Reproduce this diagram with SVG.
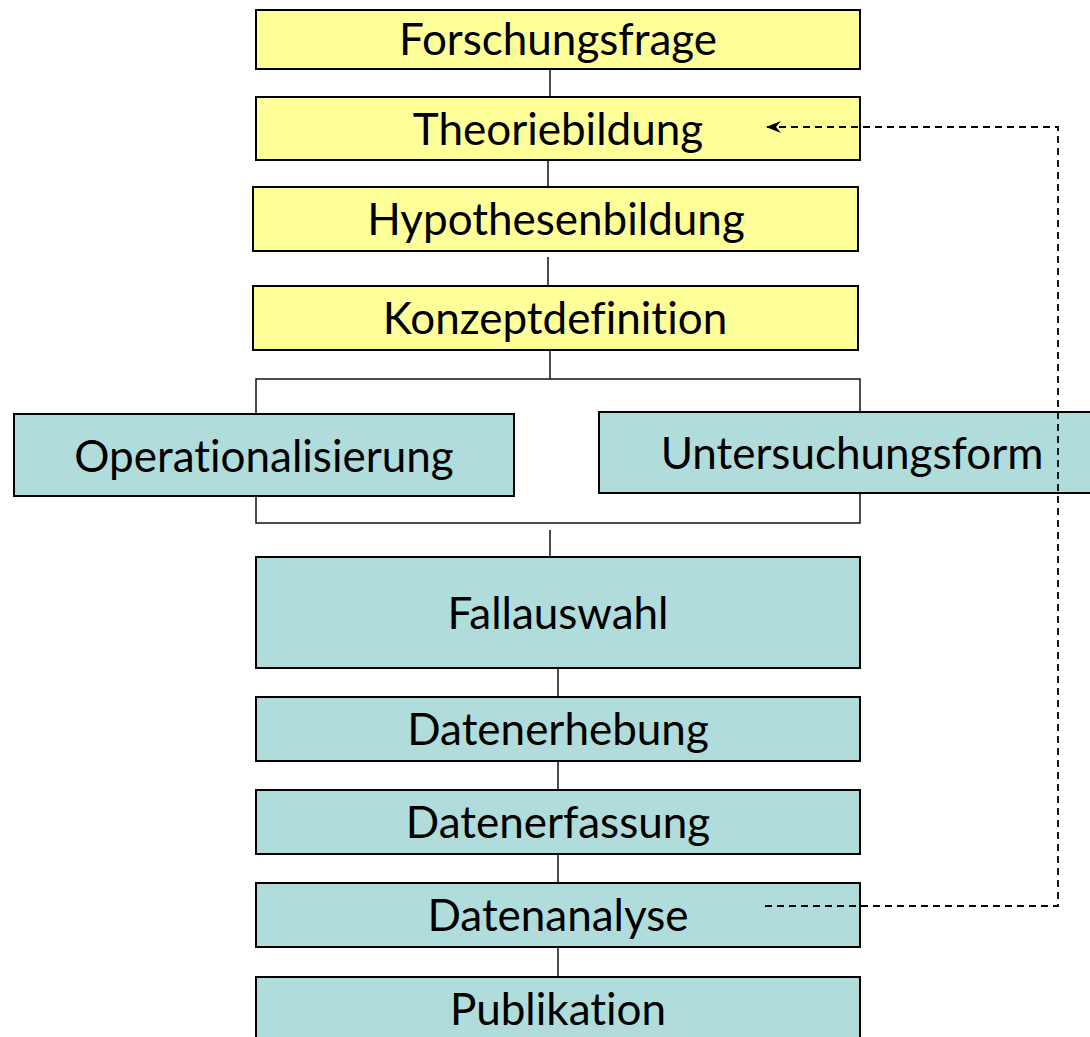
<svg xmlns="http://www.w3.org/2000/svg" width="1090" height="1037" viewBox="0 0 1090 1037">
<defs>
<style>
.y{fill:#ffff99;stroke:#000;stroke-width:2}
.t{fill:#b0dcdb;stroke:#000;stroke-width:2}
.lb{font-family:"Lato","Open Sans",sans-serif;font-size:44px;fill:#000;text-anchor:middle;font-variant-ligatures:none;font-feature-settings:"liga" 0,"dlig" 0}
.c{stroke:#111;stroke-width:1.5;fill:none}
.d{stroke:#000;stroke-width:1.8;fill:none;stroke-dasharray:7,5}
</style>
<marker id="ah" viewBox="0 0 15 12" refX="15" refY="6" markerWidth="15" markerHeight="12" markerUnits="userSpaceOnUse" orient="auto">
<path d="M0,0 L15,6 L0,12 L5,6 Z" fill="#000"/>
</marker>
</defs>
<rect width="1090" height="1037" fill="#fff"/>
<g id="connectors">
<line class="c" x1="550" y1="69" x2="550" y2="97"/>
<line class="c" x1="548" y1="160" x2="548" y2="187"/>
<line class="c" x1="548" y1="257" x2="548" y2="286"/>
<line class="c" x1="550" y1="350" x2="550" y2="379"/>
<path class="c" d="M256,379 H860 V523 H256 Z"/>
<line class="c" x1="550" y1="530" x2="550" y2="557"/>
<line class="c" x1="558" y1="668" x2="558" y2="697"/>
<line class="c" x1="558" y1="761" x2="558" y2="790"/>
<line class="c" x1="558" y1="854" x2="558" y2="883"/>
<line class="c" x1="558" y1="947" x2="558" y2="977"/>
</g>
<g id="n1"><rect class="y" x="256" y="10" width="604" height="59"/><text class="lb" x="558" y="55">Forschungsfrage</text></g>
<g id="n2"><rect class="y" x="256" y="97" width="604" height="63"/><text class="lb" x="558" y="145">Theoriebildung</text></g>
<g id="n3"><rect class="y" x="253" y="187" width="605" height="64"/><text class="lb" x="556" y="235">Hypothesenbildung</text></g>
<g id="n4"><rect class="y" x="253" y="286" width="605" height="64"/><text class="lb" x="555" y="334">Konzeptdefinition</text></g>
<g id="n5"><rect class="t" x="14" y="414" width="500" height="82"/><text class="lb" x="264" y="472">Operationalisierung</text></g>
<g id="n6"><rect class="t" x="599" y="412" width="495" height="81"/><text class="lb" x="852" y="469">Untersuchungsform</text></g>
<g id="n7"><rect class="t" x="256" y="557" width="604" height="111"/><text class="lb" x="558" y="629">Fallauswahl</text></g>
<g id="n8"><rect class="t" x="256" y="697" width="604" height="64"/><text class="lb" x="558" y="745">Datenerhebung</text></g>
<g id="n9"><rect class="t" x="256" y="790" width="604" height="64"/><text class="lb" x="558" y="838">Datenerfassung</text></g>
<g id="n10"><rect class="t" x="256" y="883" width="604" height="64"/><text class="lb" x="558" y="931">Datenanalyse</text></g>
<g id="n11"><rect class="t" x="256" y="977" width="604" height="70"/><text class="lb" x="558" y="1025">Publikation</text></g>
<g id="feedback">
<path class="d" d="M765,906 H1058 V127 H766" marker-end="url(#ah)"/>
</g>
</svg>
